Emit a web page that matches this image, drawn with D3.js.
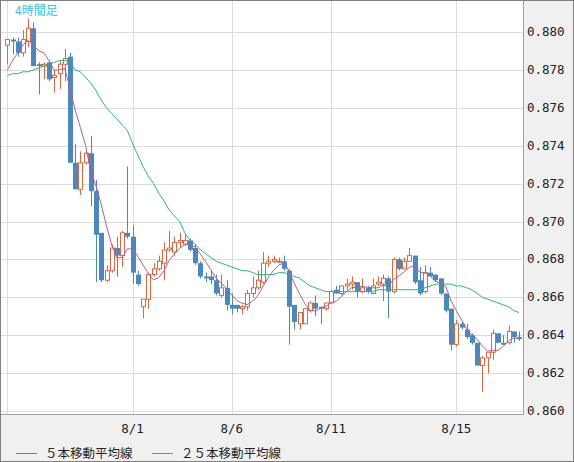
<!DOCTYPE html>
<html>
<head>
<meta charset="utf-8">
<script src="https://cdn.jsdelivr.net/npm/d3@7"></script>
<style>
  body { margin: 0; background: #f0f0f0; }
  svg { display: block; }
</style>
</head>
<body>
<div id="chart-area"></div>
<script>
// 4時間足 OHLC
const opens  = [.8793,.8796,.8795,.8789,.8795,.8802,.8783,.8782,.8784,.8776,.8778,.8783,.8787,.8731,.8717,.8731,.8736,.8716,.8694,.8669,
  .8674,.8686,.8682,.8694,.8692,.8672,.8655,.8659,.8672,.8675,.8678,.8685,.8684,.8689,.8688,.8690,.8686,.8678,.8671,.8671,
  .8669,.8661,.8665,.8656,.8656,.8654,.8655,.8662,.8665,.8668,.8678,.8679,.8679,.8679,.8674,.8656,.8646,.8646,.8653,.8657,
  .8655,.8654,.8657,.8664,.8662,.8666,.8667,.8668,.8663,.8665,.8662,.8667,.8667,.8670,.8663,.8680,.8675,.8679,.8682,.8669,
  .8663,.8673,.8672,.8670,.8662,.8654,.8635,.8646,.8643,.8640,.8636,.8624,.8628,.8631,.8641,.8636,.8636,.8642,.8639];
const highs  = [.8796,.8797,.8797,.8801,.8807,.8805,.8784,.8784,.8785,.8780,.8785,.8791,.8789,.8741,.8737,.8737,.8745,.8722,.8694,.8677,
  .8688,.8692,.8695,.8729,.8698,.8674,.8659,.8673,.8678,.8682,.8689,.8695,.8692,.8694,.8693,.8691,.8688,.8679,.8673,.8674,
  .8672,.8672,.8669,.8662,.8656,.8656,.8664,.8671,.8674,.8684,.8682,.8682,.8681,.8682,.8675,.8656,.8652,.8654,.8658,.8661,
  .8655,.8657,.8664,.8666,.8666,.8670,.8671,.8668,.8670,.8666,.8670,.8671,.8672,.8671,.8681,.8681,.8681,.8686,.8682,.8676,
  .8677,.8676,.8672,.8670,.8662,.8654,.8648,.8647,.8646,.8641,.8636,.8629,.8631,.8643,.8641,.8640,.8645,.8642,.8642];
const lows   = [.8783,.8788,.8787,.8787,.8792,.8782,.8767,.8775,.8774,.8768,.8770,.8774,.8731,.8717,.8714,.8730,.8708,.8668,.8668,.8668,
  .8673,.8671,.8676,.8691,.8667,.8666,.8649,.8654,.8671,.8674,.8669,.8684,.8682,.8686,.8687,.8684,.8677,.8670,.8668,.8667,
  .8661,.8660,.8653,.8651,.8652,.8651,.8653,.8660,.8664,.8667,.8676,.8678,.8678,.8674,.8635,.8643,.8643,.8646,.8652,.8650,
  .8646,.8653,.8657,.8662,.8661,.8664,.8664,.8660,.8662,.8662,.8662,.8666,.8658,.8649,.8662,.8674,.8675,.8679,.8667,.8661,
  .8662,.8671,.8668,.8661,.8652,.8632,.8634,.8643,.8638,.8635,.8624,.8610,.8620,.8627,.8636,.8635,.8635,.8636,.8637];
const closes = [.8796,.8795,.8789,.8796,.8802,.8782,.8782,.8783,.8775,.8777,.8783,.8786,.8731,.8717,.8731,.8736,.8716,.8693,.8669,.8674,
  .8686,.8682,.8694,.8692,.8673,.8667,.8659,.8672,.8675,.8679,.8685,.8686,.8689,.8690,.8690,.8685,.8678,.8671,.8670,.8669,
  .8662,.8665,.8656,.8654,.8654,.8655,.8662,.8665,.8669,.8678,.8679,.8680,.8679,.8675,.8655,.8647,.8652,.8654,.8657,.8654,
  .8654,.8657,.8663,.8662,.8666,.8667,.8668,.8663,.8665,.8663,.8666,.8668,.8670,.8663,.8680,.8675,.8679,.8682,.8668,.8662,
  .8673,.8671,.8669,.8662,.8653,.8635,.8646,.8644,.8639,.8636,.8624,.8628,.8631,.8641,.8636,.8635,.8642,.8639,.8638];
// closes before the first visible bar (for the 5-bar average)
const priorCloses = [.8770,.8768,.8775,.8790];
// 25本移動平均線
const ma25 = [.8777,.8778,.8778,.8779,.8779,.8780,.8781,.8782,.8783,.8784,.8785,.8785,.8784,.8780,.8779,.8776,.8773,.8769,.8764,.8760,
  .8757,.8754,.8751,.8748,.8741,.8735,.8729,.8724,.8720,.8715,.8711,.8706,.8703,.8700,.8694,.8690,.8688,.8685,.8683,.8681,
  .8679,.8678,.8677,.8676,.8675,.8674,.8674,.8673,.8672,.8672,.8672,.8672,.8673,.8673,.8672,.8671,.8670,.8668,.8666,.8665,
  .8664,.8663,.8663,.8663,.8663,.8663,.8663,.8663,.8663,.8663,.8663,.8664,.8664,.8664,.8664,.8664,.8664,.8664,.8664,.8664,
  .8665,.8666,.8667,.8667,.8667,.8667,.8666,.8666,.8665,.8664,.8662,.8660,.8659,.8658,.8657,.8656,.8655,.8653,.8652];
const dateLabels = [[24,"8/1"],[43,"8/6"],[62,"8/11"],[86,"8/15"]];
const yTicks = d3.range(0, 11).map(i => +(0.860 + i * 0.002).toFixed(3));

const W = 574, H = 462;
const plot = {l: 1, r: 523, t: 1, b: 414};
const svg = d3.select("#chart-area").append("svg").attr('width', W).attr('height', H);

svg.append('rect').attr('x', 0.5).attr('y', 0.5).attr('width', W - 1).attr('height', H - 1)
  .attr('fill', '#f0f0f0').attr('stroke', '#808080');
svg.append('rect').attr('x', plot.l).attr('y', plot.t).attr('width', plot.r - plot.l).attr('height', plot.b - plot.t)
  .attr('fill', '#fff');

var idx = d3.range(closes.length);
var x = d3.scalePoint().domain(idx).range([7.3, 519]);
var y = d3.scaleLinear().domain([0.860, 0.880]).range([411, 32]);

// grid
svg.selectAll('.hg').data(yTicks).enter().append('line')
  .attr('x1', plot.l).attr('x2', plot.r)
  .attr('y1', d => Math.round(y(d)) + 0.5).attr('y2', d => Math.round(y(d)) + 0.5)
  .attr('stroke', '#dcdcdc');
svg.selectAll('.vg').data([[0, ""]].concat(dateLabels)).enter().append('line')
  .attr('x1', d => Math.round(x(d[0])) + 0.5).attr('x2', d => Math.round(x(d[0])) + 0.5)
  .attr('y1', plot.t).attr('y2', plot.b)
  .attr('stroke', '#dcdcdc');

// candles
var up = '#dc6640', down = '#4a88c2';
var g = svg.append('g');
idx.forEach(i => {
  var isUp = closes[i] >= opens[i];
  var cx = Math.round(x(i)) + 0.5;
  g.append('line').attr('x1', cx).attr('x2', cx)
    .attr('y1', y(highs[i])).attr('y2', y(lows[i]))
    .attr('stroke', isUp ? up : down);
  var top = y(Math.max(opens[i], closes[i])), bot = y(Math.min(opens[i], closes[i]));
  if (isUp) {
    g.append('rect').attr('x', cx - 2).attr('width', 4)
      .attr('y', top).attr('height', Math.max(bot - top, 1))
      .attr('fill', '#fff').attr('stroke', up);
  } else {
    g.append('rect').attr('x', cx - 2.5).attr('width', 5)
      .attr('y', top).attr('height', Math.max(bot - top, 1.5))
      .attr('fill', down);
  }
});

// moving averages
var all = priorCloses.concat(closes);
var ma5 = closes.map((d, i) => d3.mean(all.slice(i, i + 5)));
var line = d3.line().x((d, i) => x(i)).y(d => y(d));
svg.append('path').datum(ma25).attr('d', line).attr('fill', 'none').attr('stroke', '#2eb47c').attr('stroke-width', 1);
svg.append('path').datum(ma5).attr('d', line).attr('fill', 'none').attr('stroke', '#b0608e').attr('stroke-width', 1);

// plot frame
svg.append('path')
  .attr('d', `M${plot.r + 0.5},${plot.t} V${plot.b + 0.5} H${plot.l}`)
  .attr('fill', 'none').attr('stroke', '#a0a0a0');

// axes
svg.append('g').selectAll('text').data(yTicks).enter().append('text')
  .attr('x', 527).attr('y', d => y(d) + 4)
  .attr('font-family', 'DejaVu Sans Mono').attr('font-size', 12.5).attr('fill', '#222')
  .text(d => d.toFixed(3));
svg.append('g').selectAll('text').data(dateLabels).enter().append('text')
  .attr('x', d => x(d[0])).attr('y', 433).attr('text-anchor', 'middle')
  .attr('font-family', 'DejaVu Sans Mono').attr('font-size', 12.5).attr('fill', '#222')
  .text(d => d[1]);

svg.append('text').attr('x', 15).attr('y', 15)
  .attr('font-family', 'Noto Sans CJK JP').attr('font-size', 12).attr('fill', '#3cc0f0')
  .text('4時間足');

// legend
var legend = [["５本移動平均線", '#b0608e', 16], ["２５本移動平均線", '#2eb47c', 152]];
legend.forEach(d => {
  svg.append('line').attr('x1', d[2]).attr('x2', d[2] + 21).attr('y1', 453.5).attr('y2', 453.5).attr('stroke', d[1]);
  svg.append('text').attr('x', d[2] + 29).attr('y', 458)
    .attr('font-family', 'Noto Sans CJK JP').attr('font-size', 12.5).attr('fill', '#222')
    .text(d[0]);
});
</script>
</body>
</html>
